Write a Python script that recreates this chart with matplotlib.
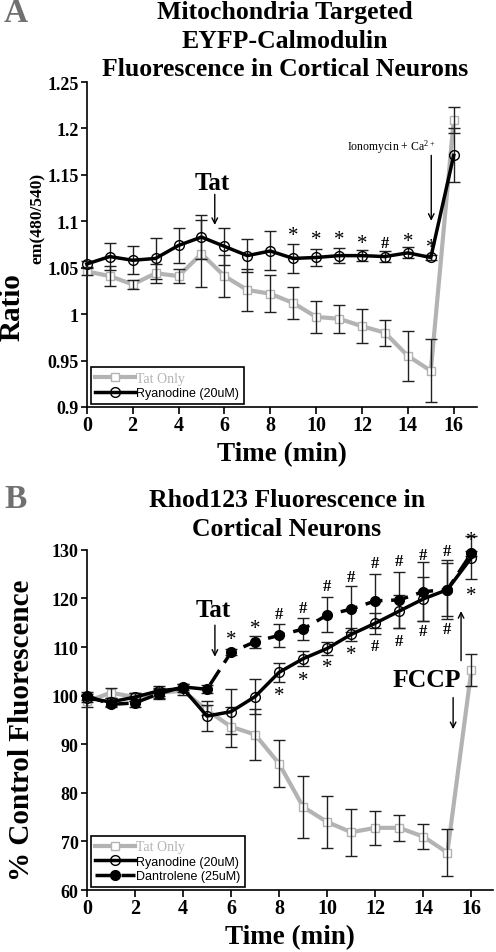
import numpy as np
import matplotlib
matplotlib.use('Agg')
import matplotlib.pyplot as plt

plt.rcParams['font.family'] = 'Liberation Serif'
plt.rcParams['mathtext.fontset'] = 'custom'
plt.rcParams['mathtext.rm'] = 'Liberation Serif'
plt.rcParams['mathtext.default'] = 'regular'

GRAY = '#b3b3b3'

# ---- panel A : EYFP-calmodulin ratio
time_a = np.arange(17)
tat_a = [1.046, 1.041, 1.032, 1.044, 1.041, 1.065, 1.041, 1.026, 1.022, 1.012,
         0.997, 0.995, 0.987, 0.980, 0.955, 0.939, 1.209]
tat_a_err = [0.004, 0.011, 0.005, 0.010, 0.008, 0.036, 0.023, 0.023, 0.020, 0.017,
             0.017, 0.015, 0.018, 0.014, 0.027, 0.034, 0.014]
ryan_a = [1.054, 1.062, 1.058, 1.060, 1.074, 1.083, 1.073, 1.063, 1.068, 1.060,
          1.061, 1.063, 1.063, 1.062, 1.066, 1.061, 1.171]
ryan_a_err = [0.003, 0.015, 0.015, 0.022, 0.019, 0.024, 0.020, 0.018, 0.021, 0.016,
              0.009, 0.008, 0.006, 0.006, 0.006, 0.003, 0.029]
sig_a_x = [9, 10, 11, 12, 13, 14, 15]
sig_a_sym = ['*', '*', '*', '*', '#', '*', '*']
sig_a_y = [1.085, 1.080, 1.080, 1.076, 1.077, 1.078, 1.072]

# ---- panel B : Rhod123
time_b = np.arange(17)
tat_b = [98.8, 100.6, 99.7, 100.6, 101.0, 97.0, 93.6, 92.0, 86.0, 77.1,
         74.0, 71.9, 72.8, 72.8, 71.0, 67.7, 105.3]
tat_b_err = [1.2, 1.0, 0.8, 1.0, 0.8, 1.0, 4.1, 5.2, 4.8, 6.4,
             5.4, 4.8, 3.5, 2.7, 2.5, 4.8, 3.3]
ryan_b = [99.5, 98.7, 99.7, 101.0, 101.5, 95.8, 96.7, 99.8, 104.8, 107.6,
          109.7, 112.6, 114.9, 117.4, 119.9, 121.8, 128.4]
ryan_b_err = [0.8, 0.8, 0.8, 1.0, 0.8, 3.0, 4.6, 3.6, 2.0, 1.6,
              1.3, 1.4, 2.2, 3.4, 4.5, 5.4, 4.5]
dant_b = [100.0, 98.2, 98.5, 100.4, 101.8, 101.3, 108.9, 111.1, 112.4, 113.7,
          116.6, 117.8, 119.5, 119.7, 121.4, 121.8, 129.3]
dant_b_err = [0.8, 0.6, 0.8, 1.0, 0.6, 0.8, 0.6, 1.2, 2.3, 2.2,
              3.6, 4.7, 5.6, 5.8, 6.1, 6.1, 0.5]
above_x = [6, 7, 8, 9, 10, 11, 12, 13, 14, 15, 16]
above_sym = ['*', '*', '#', '#', '#', '#', '#', '#', '#', '#', '*']
above_y = [111.5, 113.9, 116.8, 118.1, 122.6, 124.5, 127.3, 127.6, 129.0, 129.7, 131.9]
below_x = [8, 9, 10, 11, 12, 13, 14, 15, 16]
below_sym = ['*', '*', '*', '*', '#', '#', '#', '#', '*']
below_y = [100.0, 103.1, 105.8, 108.5, 110.2, 111.3, 113.3, 113.7, 120.6]


def style_axes(ax):
    for s in ['top', 'right']:
        ax.spines[s].set_visible(False)
    for s in ['left', 'bottom']:
        ax.spines[s].set_linewidth(1.2)
    ax.tick_params(axis='y', direction='out', length=4, width=1.2, labelsize=13, pad=2)
    ax.tick_params(axis='x', direction='out', length=5, width=1.2, labelsize=14.5, pad=1)
    for lab in ax.get_xticklabels() + ax.get_yticklabels():
        lab.set_fontweight('bold')


def put_marks(ax, xs, ys, syms):
    for x, y, s in zip(xs, ys, syms):
        ax.text(x, y, s, ha='center', va='center', fontsize=15 if s == '*' else 12,
                fontweight='bold' if s == '#' else 'normal')


fig = plt.figure(figsize=(4.96, 9.53), dpi=100)

# ================= panel A
ax1 = fig.add_axes([0.175, 0.5719, 0.786, 0.341])
ax1.plot(time_a, tat_a, color=GRAY, lw=3, marker='s', ms=6, mfc='white', mec=GRAY,
         zorder=2, clip_on=False, label='Tat Only')
ax1.errorbar(time_a, tat_a, yerr=tat_a_err, fmt='none', ecolor='#202020', elinewidth=1,
             capsize=4.5, capthick=1, zorder=3, clip_on=False)
ax1.errorbar(time_a, ryan_a, yerr=ryan_a_err, fmt='none', ecolor='#202020', elinewidth=1,
             capsize=4.5, capthick=1, zorder=3, clip_on=False)
ax1.plot(time_a, ryan_a, color='k', lw=2.5, marker='o', ms=7, mfc='none', mec='k',
         zorder=4, clip_on=False, label='Ryanodine (20uM)')
ax1.set_xlim(0, 17)
ax1.set_ylim(0.9, 1.25)
ax1.set_xticks(range(0, 17, 2))
ax1.set_yticks([0.9, 0.95, 1.0, 1.05, 1.1, 1.15, 1.2, 1.25])
ax1.set_yticklabels(['0.9', '0.95', '1', '1.05', '1.1', '1.15', '1.2', '1.25'])
style_axes(ax1)
put_marks(ax1, sig_a_x, sig_a_y, sig_a_sym)

ax1.text(5.45, 1.142, 'Tat', ha='center', va='center', fontsize=18, fontweight='bold')
ax1.annotate('', xy=(5.58, 1.096), xytext=(5.58, 1.129),
             arrowprops=dict(arrowstyle='->', lw=1, color='k', shrinkA=0, shrinkB=0))
ax1.text(15.2, 1.181, 'Ionomycin + Ca$^{2+}$', ha='right', va='center', fontsize=8.5)
ax1.annotate('', xy=(15.02, 1.1005), xytext=(15.02, 1.171),
             arrowprops=dict(arrowstyle='->', lw=1, color='k', shrinkA=0, shrinkB=0))

leg1 = ax1.legend(loc='lower left', bbox_to_anchor=(0.01, 0.01), borderaxespad=0,
                  fancybox=False, edgecolor='k', framealpha=1, handlelength=3.2,
                  handletextpad=0.1, borderpad=0.35, labelspacing=0.2,
                  prop={'family': 'Liberation Sans', 'size': 9})
leg1.get_frame().set_linewidth(1.2)
leg1.get_texts()[0].set_fontfamily('Liberation Serif')
leg1.get_texts()[0].set_color(GRAY)
leg1.get_texts()[0].set_fontsize(10)

ax1.set_xlabel('Time (min)', fontsize=19.5, fontweight='bold', labelpad=4)

fig.text(0.5746, 1 - 41 / 953,
         'Mitochondria Targeted\nEYFP-Calmodulin\nFluorescence in Cortical Neurons',
         ha='center', va='center', fontsize=18.5, fontweight='bold', linespacing=1.3)
fig.text(0.024, 1 - 307 / 953, 'Ratio', rotation=90, ha='center', va='center',
         fontsize=21, fontweight='bold')
fig.text(0.077, 1 - 218 / 953, 'em(480/540)', rotation=90, ha='center', va='center',
         fontsize=12.5, fontweight='bold')
fig.text(0.008, 1 - 14 / 953, 'A', ha='left', va='center', fontsize=24,
         fontweight='bold', color='#707070')

# ================= panel B
ax2 = fig.add_axes([0.175, 0.065, 0.819, 0.357])
ax2.plot(time_b, tat_b, color=GRAY, lw=3, marker='s', ms=6, mfc='white', mec=GRAY,
         zorder=2, clip_on=False, label='Tat Only')
for vals, errs in [(tat_b, tat_b_err), (ryan_b, ryan_b_err), (dant_b, dant_b_err)]:
    ax2.errorbar(time_b, vals, yerr=errs, fmt='none', ecolor='#202020', elinewidth=1,
                 capsize=4.5, capthick=1, zorder=3, clip_on=False)
ax2.plot(time_b, ryan_b, color='k', lw=2.5, marker='o', ms=7, mfc='none', mec='k',
         zorder=4, clip_on=False, label='Ryanodine (20uM)')
ax2.plot(time_b, dant_b, color='k', lw=2.5, marker='o', ms=7, mfc='k', mec='k',
         dashes=(5, 2.5), zorder=4, clip_on=False, label='Dantrolene (25uM)')
ax2.set_xlim(0, 16.9)
ax2.set_ylim(60, 130)
ax2.set_xticks(range(0, 17, 2))
ax2.set_yticks(range(60, 131, 10))
style_axes(ax2)
put_marks(ax2, above_x, above_y, above_sym)
put_marks(ax2, below_x, below_y, below_sym)

ax2.text(5.25, 117.8, 'Tat', ha='center', va='center', fontsize=18, fontweight='bold')
ax2.annotate('', xy=(5.33, 108.0), xytext=(5.33, 114.5),
             arrowprops=dict(arrowstyle='->', lw=1, color='k', shrinkA=0, shrinkB=0))
ax2.text(14.15, 103.4, 'FCCP', ha='center', va='center', fontsize=18.5, fontweight='bold')
ax2.annotate('', xy=(15.57, 117.4), xytext=(15.57, 107.2),
             arrowprops=dict(arrowstyle='->', lw=1, color='k', shrinkA=0, shrinkB=0))
ax2.annotate('', xy=(15.24, 93.1), xytext=(15.24, 99.6),
             arrowprops=dict(arrowstyle='->', lw=1, color='k', shrinkA=0, shrinkB=0))

leg2 = ax2.legend(loc='lower left', bbox_to_anchor=(0.01, 0.01), borderaxespad=0,
                  fancybox=False, edgecolor='k', framealpha=1, handlelength=3.2,
                  handletextpad=0.1, borderpad=0.35, labelspacing=0.2,
                  prop={'family': 'Liberation Sans', 'size': 9})
leg2.get_frame().set_linewidth(1.2)
leg2.get_texts()[0].set_fontfamily('Liberation Serif')
leg2.get_texts()[0].set_color(GRAY)
leg2.get_texts()[0].set_fontsize(10)

ax2.set_xlabel('Time (min)', fontsize=19.5, fontweight='bold', labelpad=4)

fig.text(0.5786, 1 - 515 / 953, 'Rhod123 Fluorescence in\nCortical Neurons',
         ha='center', va='center', fontsize=18.5, fontweight='bold', linespacing=1.35)
fig.text(0.044, 1 - 730 / 953, '% Control Fluorescence', rotation=90, ha='center',
         va='center', fontsize=21, fontweight='bold')
fig.text(0.008, 1 - 500 / 953, 'B', ha='left', va='center', fontsize=24,
         fontweight='bold', color='#707070')

fig.savefig('out.png', dpi=100)
